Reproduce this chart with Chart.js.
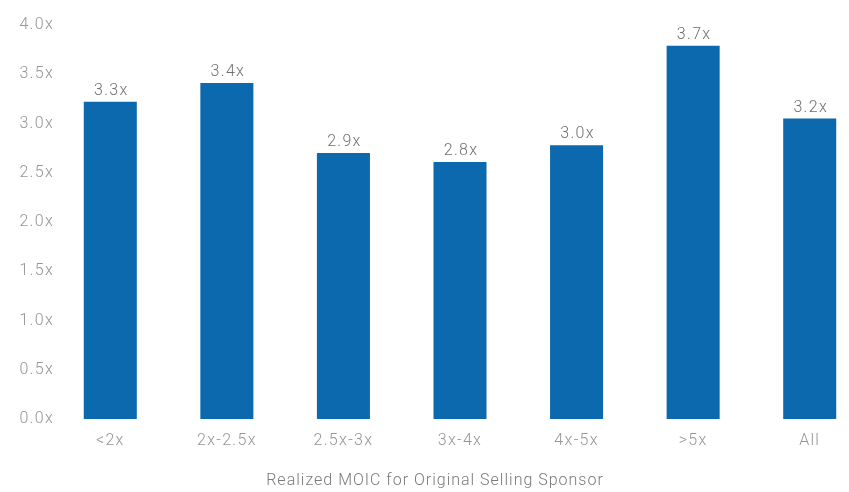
<!DOCTYPE html>
<html>
<head>
<meta charset="utf-8">
<script src="https://cdn.jsdelivr.net/npm/chart.js@4"></script>
<style>
  html, body { margin: 0; padding: 0; background: #fff; overflow: hidden; }
  #wrap { position: relative; width: 870px; height: 492px; }
</style>
</head>
<body>
<div id="wrap"><canvas id="chart"></canvas></div>
<script>
// MOIC buckets of the original selling sponsor
const categories = ['<2x', '2x-2.5x', '2.5x-3x', '3x-4x', '4x-5x', '>5x', 'All'];
// bar heights as drawn in the picture
const moicValues = [3.22, 3.41, 2.70, 2.61, 2.78, 3.79, 3.05];
// printed labels above the bars
const valueLabels = ['3.3x', '3.4x', '2.9x', '2.8x', '3.0x', '3.7x', '3.2x'];
const yTicks = [0, 0.5, 1, 1.5, 2, 2.5, 3, 3.5, 4];
const xTitle = 'Realized MOIC for Original Selling Sponsor';

const barColor = '#0d69ad';
const fontFamily = 'Roboto, "Open Sans", sans-serif';
const tickSpacing = '1.3px';

// the source font is set wide, so spread the letters a little
const spacing = {
  id: 'spacing',
  beforeLayout(chart) { chart.ctx.letterSpacing = tickSpacing; },
  beforeDraw(chart) { chart.ctx.letterSpacing = tickSpacing; }
};

const barLabels = {
  id: 'barLabels',
  afterDatasetsDraw(chart) {
    const ctx = chart.ctx;
    const meta = chart.getDatasetMeta(0);
    ctx.save();
    ctx.letterSpacing = tickSpacing;
    ctx.font = '300 16px ' + fontFamily;
    ctx.fillStyle = '#707070';
    ctx.textAlign = 'center';
    ctx.textBaseline = 'bottom';
    meta.data.forEach((bar, i) => {
      ctx.fillText(valueLabels[i], bar.x + 1, bar.y - 3);
    });
    ctx.restore();
  }
};

const axisTitle = {
  id: 'axisTitle',
  afterDraw(chart) {
    const ctx = chart.ctx;
    ctx.save();
    ctx.letterSpacing = '1px';
    ctx.font = '300 16px ' + fontFamily;
    ctx.fillStyle = '#7a7a7a';
    ctx.textAlign = 'center';
    ctx.textBaseline = 'middle';
    ctx.fillText(xTitle, 435, chart.height - 11);
    ctx.restore();
  }
};

new Chart(document.getElementById('chart'), {
  type: 'bar',
  data: {
    labels: categories,
    datasets: [{
      data: moicValues,
      backgroundColor: barColor,
      borderWidth: 0,
      categoryPercentage: 1,
      barPercentage: 0.455
    }]
  },
  options: {
    responsive: true,
    maintainAspectRatio: false,
    animation: false,
    layout: { padding: { top: 25, right: 2, left: 0, bottom: 0 } },
    plugins: {
      legend: { display: false },
      tooltip: { enabled: false }
    },
    scales: {
      x: {
        grid: { display: false, drawTicks: false },
        border: { display: false },
        ticks: {
          color: '#959595',
          font: { family: fontFamily, size: 16, weight: '300' },
          padding: 12,
          maxRotation: 0
        },
        afterFit(scale) { scale.height = 73; }
      },
      y: {
        min: 0,
        max: 4,
        afterBuildTicks(scale) { scale.ticks = yTicks.map(v => ({ value: v })); },
        grid: { display: false, drawTicks: false },
        border: { display: false },
        ticks: {
          color: '#959595',
          font: { family: fontFamily, size: 16, weight: '300' },
          padding: -2,
          callback: v => v.toFixed(1) + 'x'
        },
        afterFit(scale) { scale.width = 52; }
      }
    }
  },
  plugins: [spacing, barLabels, axisTitle]
});
</script>
</body>
</html>
